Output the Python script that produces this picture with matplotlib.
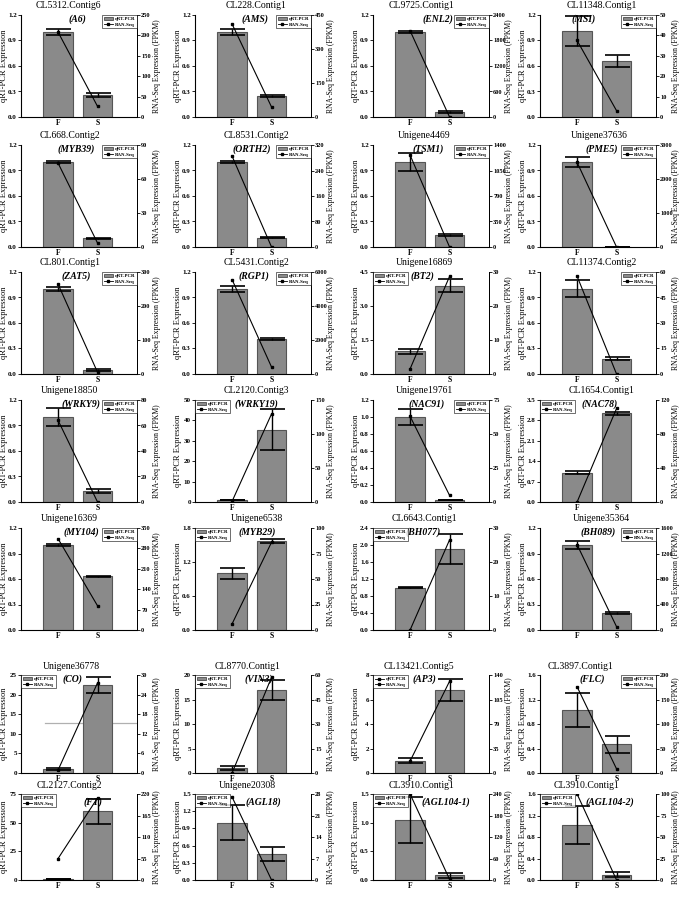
import numpy as np
import matplotlib.pyplot as plt
import matplotlib.patches as mpatches
import matplotlib.lines as mlines

plt.rcParams['font.family'] = ['Liberation Serif', 'DejaVu Serif']
plt.rcParams['font.weight'] = 'bold'

# ---- data ----
contigs = ['CL5312.Contig6', 'CL228.Contig1', 'CL9725.Contig1', 'CL11348.Contig1',
           'CL668.Contig2', 'CL8531.Contig2', 'Unigene4469', 'Unigene37636',
           'CL801.Contig1', 'CL5431.Contig2', 'Unigene16869', 'CL11374.Contig2',
           'Unigene18850', 'CL2120.Contig3', 'Unigene19761', 'CL1654.Contig1',
           'Unigene16369', 'Unigene6538', 'CL6643.Contig1', 'Unigene35364',
           'Unigene36778', 'CL8770.Contig1', 'CL13421.Contig5', 'CL3897.Contig1',
           'CL2127.Contig2', 'Unigene20308', 'CL3910.Contig1', 'CL3910.Contig1']
genes = ['A6', 'AMS', 'ENL2', 'MSI',
         'MYB39', 'ORTH2', 'TSM1', 'PME5',
         'ZAT5', 'RGP1', 'BT2', '',
         'WRKY9', 'WRKY19', 'NAC91', 'NAC78',
         'MY104', 'MYB29', 'BH077', 'BH089',
         'CO', 'VIN3', 'AP3', 'FLC',
         'FT', 'AGL18', 'AGL104-1', 'AGL104-2']
groups = ['F', 'S']

qpcr_f = [1.0, 1.0, 1.0, 1.01, 1.0, 1.0, 1.0, 1.0, 1.0, 1.0, 1.0, 1.0, 1.0, 1.0,
          1.0, 1.0, 1.0, 1.0, 1.0, 1.0, 1.0, 1.0, 1.0, 1.03, 1.0, 1.0, 1.05, 1.02]
qpcr_s = [0.26, 0.25, 0.06, 0.66, 0.10, 0.11, 0.14, 0.0, 0.05, 0.41, 3.9, 0.18, 0.13, 35.5,
          0.02, 3.05, 0.63, 1.57, 1.9, 0.20, 22.5, 17.0, 6.8, 0.47, 60.0, 0.45, 0.08, 0.10]
err_f = [0.03, 0.04, 0.01, 0.18, 0.015, 0.01, 0.11, 0.06, 0.02, 0.04, 0.1, 0.1, 0.11, 0.2,
         0.09, 0.05, 0.01, 0.1, 0.01, 0.05, 0.2, 0.4, 0.2, 0.28, 0.3, 0.3, 0.4, 0.35]
err_s = [0.025, 0.01, 0.01, 0.07, 0.01, 0.01, 0.01, 0.0, 0.01, 0.01, 0.3, 0.02, 0.02, 10.0,
         0.0, 0.05, 0.01, 0.04, 0.35, 0.01, 2.0, 2.0, 0.9, 0.14, 11.0, 0.12, 0.05, 0.05]
rna_f = [208, 410, 2030, 37.5, 74, 285, 1262, 2489, 264, 5552, 1.5, 57.5, 64, 1.0,
         63, 0, 313, 6, 0, 1338, 0.9, 0, 17, 176, 55, 27, 240, 100]
rna_s = [26, 44, 0, 3.1, 3.5, 0, 0, 0, 5, 409, 28.7, 0, 0, 129.5,
         4.9, 110, 83, 86, 26.5, 52, 27.6, 58.6, 131, 8.4, 210, 0, 2, 0]

# axis ranges, tick steps and decimals of the left tick labels
left_top = [1.2, 1.2, 1.2, 1.2, 1.2, 1.2, 1.2, 1.2, 1.2, 1.2, 4.5, 1.2, 1.2, 50,
            1.2, 3.5, 1.2, 1.8, 2.4, 1.2, 25, 20, 8, 1.6, 75, 1.5, 1.5, 1.6]
left_step = [0.3, 0.3, 0.3, 0.3, 0.3, 0.3, 0.3, 0.3, 0.3, 0.3, 1.5, 0.3, 0.3, 10,
             0.2, 0.7, 0.3, 0.6, 0.4, 0.3, 5, 5, 2, 0.4, 25, 0.3, 0.5, 0.4]
left_dec = [1, 1, 1, 1, 1, 1, 1, 1, 1, 1, 1, 1, 1, 0,
            1, 1, 1, 1, 1, 1, 0, 0, 0, 1, 0, 1, 1, 1]
right_top = [250, 450, 2400, 50, 90, 320, 1400, 3000, 300, 6000, 30, 60, 80, 150,
             75, 120, 350, 100, 30, 1600, 30, 60, 140, 200, 220, 28, 240, 100]
right_step = [50, 150, 600, 10, 30, 80, 350, 1000, 100, 2000, 10, 15, 20, 50,
              25, 40, 70, 25, 10, 400, 6, 15, 35, 50, 55, 7, 60, 25]
line_names = ['RAN-Seq'] * 19 + ['RNA-Seq'] + ['RAN-Seq'] * 8
# stray grey rule visible across the Unigene36778 panel (left-axis units)
stray_line = 12.7

# ---- layout ----
legend_left = [False, False, False, False, False, False, False, False,
               False, False, True, False, False, True, False, True,
               False, True, True, False, True, True, True, False,
               True, True, True, True]
gene_x = [0.49, 0.52, 0.56, 0.38, 0.48, 0.49, 0.48, 0.53, 0.48, 0.51, 0.43, 0.5, 0.52, 0.53,
          0.46, 0.51, 0.52, 0.54, 0.43, 0.50, 0.44, 0.55, 0.44, 0.45, 0.62, 0.59, 0.63, 0.6]
title_x = [0.41, 0.53, 0.42, 0.53, 0.42, 0.53, 0.44, 0.51, 0.42, 0.53, 0.44, 0.53, 0.42, 0.53,
           0.44, 0.53, 0.42, 0.53, 0.44, 0.53, 0.43, 0.45, 0.40, 0.35, 0.42, 0.45, 0.42, 0.40]
W, H = 685, 921
col_x = [21, 195, 373, 540]
row_top = [15, 145, 272, 400, 528, 675, 794]
row_h = [102, 102, 102, 102, 102, 98, 86]
aw = 116

fig = plt.figure(figsize=(W / 100, H / 100), dpi=100)
bar_col = '#8a8a8a'

for i in range(len(contigs)):
    r, c = divmod(i, 4)
    ah = row_h[r]
    ax = fig.add_axes([col_x[c] / W, 1 - (row_top[r] + ah) / H, aw / W, ah / H])
    x = np.arange(2)
    ax.bar(x, [qpcr_f[i], qpcr_s[i]], width=0.75, color=bar_col, edgecolor='#555555',
           linewidth=0.8, zorder=2)
    ax.errorbar(x, [qpcr_f[i], qpcr_s[i]], yerr=[err_f[i], err_s[i]], fmt='none',
                ecolor='black', elinewidth=1.0, capsize=9, capthick=1.2, zorder=3)
    if i == 20:
        ax.axhline(stray_line, xmin=0.21, xmax=1.0, color='#b0b0b0', lw=0.9, zorder=1.5)
    ax.set_xlim(-0.94, 2.0)
    ax.set_ylim(0, left_top[i])
    lt = np.arange(0, left_top[i] + left_step[i] / 2, left_step[i])
    ax.set_yticks(lt)
    ax.set_yticklabels([('%.' + str(left_dec[i]) + 'f') % v for v in lt])
    ax.set_xticks(x)
    ax.set_xticklabels(groups)
    ax.tick_params(labelsize=5, length=2, width=0.6, pad=1)
    ax.tick_params(axis='x', labelsize=5.5, length=0, pad=1.5)
    ax.spines['top'].set_visible(False)
    for s in ['left', 'bottom', 'right']:
        ax.spines[s].set_linewidth(0.7)
    ax.set_ylabel('qRT-PCR Expression', fontsize=6)
    ax.yaxis.set_label_coords(-0.11, 0.5)
    ax.set_title(contigs[i], fontsize=7, pad=0, x=title_x[i], y=1.065)
    if genes[i]:
        gy = 0.9 if r == 6 else 0.955
        ax.text(gene_x[i], gy, '(' + genes[i] + ')', transform=ax.transAxes,
                ha='center', va='center', style='italic', fontsize=7)

    ax2 = ax.twinx()
    ax2.plot(x, [rna_f[i], rna_s[i]], color='black', lw=0.8, marker='s',
             markersize=2, zorder=4)
    ax2.set_ylim(0, right_top[i])
    ax2.set_yticks(np.arange(0, right_top[i] + right_step[i] / 2, right_step[i]))
    ax2.tick_params(labelsize=4.6, length=2, width=0.6, pad=1)
    ax2.spines['top'].set_visible(False)
    ax2.spines['right'].set_linewidth(0.7)
    ax2.set_ylabel('RNA-Seq Expression (FPKM)', fontsize=5.5)
    ax2.yaxis.set_label_coords(1.135, 0.5)

    h1 = mpatches.Patch(facecolor=bar_col, edgecolor='#333333', linewidth=0.5)
    h2 = mlines.Line2D([], [], color='black', lw=0.6, marker='s', markersize=1.5)
    if i == 22:
        h1 = mlines.Line2D([], [], color='black', lw=0.6, marker='s', markersize=1.5)
    leg = ax2.legend([h1, h2], ['qRT-PCR', line_names[i]],
                     loc='upper left' if legend_left[i] else 'upper right',
                     bbox_to_anchor=(0.0, 1.0) if legend_left[i] else (1.0, 1.0),
                     fontsize=3.5, frameon=True, fancybox=False, handlelength=1.8,
                     handleheight=0.6, borderpad=0.3, labelspacing=0.3,
                     handletextpad=0.4, borderaxespad=0.1)
    leg.get_frame().set_edgecolor('black')
    leg.get_frame().set_linewidth(0.5)

fig.savefig('out.png', dpi=100)
